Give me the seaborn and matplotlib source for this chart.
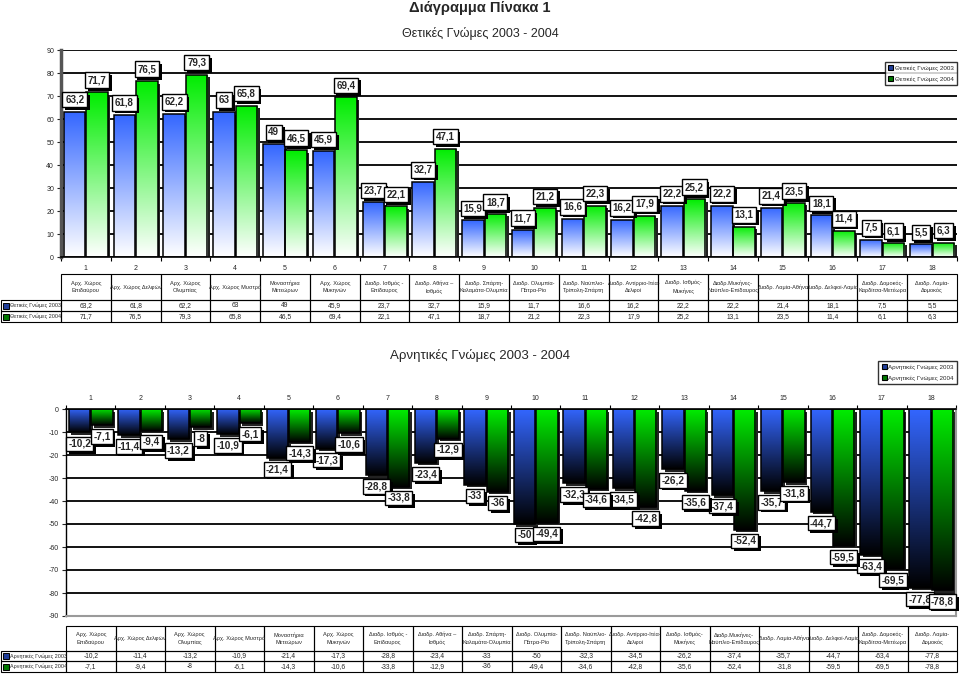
import numpy as np
import pandas as pd
import matplotlib
matplotlib.use("Agg")
import matplotlib.pyplot as plt
import seaborn as sns
from matplotlib.patches import Rectangle, Patch
from matplotlib import patheffects as pe
import matplotlib.transforms as mtransforms

# ---------------- data ----------------
categories = [str(i) for i in range(1, 19)]
places = [
    "Αρχ. Χώρος\nΕπιδαύρου", "Αρχ. Χώρος Δελφών", "Αρχ. Χώρος\nΟλυμπίας", "Αρχ. Χώρος Μυστρά",
    "Μοναστήρια\nΜετεώρων", "Αρχ. Χώρος\nΜυκηνών", "Διαδρ. Ισθμός -\nΕπίδαυρος", "Διαδρ. Αθήνα –\nΙσθμός",
    "Διαδρ. Σπάρτη-\nΚαλαμάτα-Ολυμπία", "Διαδρ. Ολυμπία-\nΠάτρα-Ρίο", "Διαδρ. Ναύπλιο-\nΤρίπολη-Σπάρτη",
    "Διαδρ. Αντίρριο-Ιτέα-\nΔελφοί", "Διαδρ. Ισθμός-\nΜυκήνες", "Διαδρ.Μυκήνες-\nΝαύπλιο-Επίδαυρος",
    "Διαδρ. Λαμία-Αθήνα", "Διαδρ. Δελφοί-Λαμία", "Διαδρ. Δομοκός-\nΚαρδίτσα-Μετέωρα", "Διαδρ. Λαμία-\nΔομοκός",
]
pos_2003 = [63.2, 61.8, 62.2, 63, 49, 45.9, 23.7, 32.7, 15.9, 11.7, 16.6, 16.2, 22.2, 22.2, 21.4, 18.1, 7.5, 5.5]
pos_2004 = [71.7, 76.5, 79.3, 65.8, 46.5, 69.4, 22.1, 47.1, 18.7, 21.2, 22.3, 17.9, 25.2, 13.1, 23.5, 11.4, 6.1, 6.3]
neg_2003 = [-10.2, -11.4, -13.2, -10.9, -21.4, -17.3, -28.8, -23.4, -33, -50, -32.3, -34.5, -26.2, -37.4, -35.7, -44.7, -63.4, -77.8]
neg_2004 = [-7.1, -9.4, -8, -6.1, -14.3, -10.6, -33.8, -12.9, -36, -49.4, -34.6, -42.8, -35.6, -52.4, -31.8, -59.5, -69.5, -78.8]
pos_series = ["Θετικές Γνώμες 2003", "Θετικές Γνώμες 2004"]
neg_series = ["Αρνητικές Γνώμες 2003", "Αρνητικές Γνώμες 2004"]
y_ticks_pos = list(range(0, 91, 10))
y_ticks_neg = list(range(-90, 1, 10))

title_main = "Διάγραμμα Πίνακα 1"
title_pos = "Θετικές Γνώμες 2003 - 2004"
title_neg = "Αρνητικές Γνώμες 2003 - 2004"

BLUE = np.array([0.20, 0.40, 1.00])
GREEN = np.array([0.00, 0.93, 0.00])

sns.set_theme(style="white")
plt.rcParams["font.family"] = ["Liberation Sans", "DejaVu Sans"]

W, H = 960, 675
fig = plt.figure(figsize=(9.6, 6.75), dpi=100)


def rect(l, t, r, b):
    return [l / W, 1 - b / H, (r - l) / W, (b - t) / H]


# overlay axes in pixel coordinates (for tables)
axf = fig.add_axes([0, 0, 1, 1])
axf.set_xlim(0, W)
axf.set_ylim(H, 0)
axf.axis("off")
axf.patch.set_alpha(0)

ax1 = fig.add_axes(rect(61, 50, 957, 257))
ax2 = fig.add_axes(rect(66, 409, 956, 616))


def fmt(v):
    return f"{v:g}".replace(".", ",")


def draw_bars(ax, v03, v04, names, low_colors):
    df = pd.DataFrame({
        "cat": categories * 2,
        "value": list(v03) + list(v04),
        "series": [names[0]] * 18 + [names[1]] * 18,
    })
    sns.barplot(data=df, x="cat", y="value", hue="series", hue_order=names,
                palette=[tuple(BLUE), tuple(GREEN)], width=0.9, gap=0.04,
                saturation=1, ax=ax, legend=False, edgecolor="black", linewidth=1.1)
    vals = [list(v03), list(v04)]
    patches = [p for p in ax.patches if isinstance(p, Rectangle)]
    off = mtransforms.offset_copy(ax.transData, fig=fig, x=2.5, y=-2.5, units="dots")
    t = np.linspace(0, 1, 256)[:, None]
    for p in patches:
        fc = np.array(p.get_facecolor()[:3])
        s = 0 if np.abs(fc - BLUE).sum() < np.abs(fc - GREEN).sum() else 1
        top_col = BLUE if s == 0 else GREEN
        x0 = p.get_x()
        w = p.get_width()
        ya, yb = sorted([p.get_y(), p.get_y() + p.get_height()])
        if yb - ya <= 0:
            continue
        idx = int(round(x0 + w / 2))
        sh = Rectangle((x0, ya), w, yb - ya, transform=off, fc="#222222", ec="none", zorder=1.6)
        ax.add_patch(sh)
        arr = (np.array(low_colors)[None, :] * (1 - t) + top_col[None, :] * t)
        arr = np.clip(arr, 0, 1).reshape(256, 1, 3)
        im = ax.imshow(arr, extent=(x0, x0 + w, ya, yb), origin="lower", aspect="auto",
                       zorder=2.5, interpolation="bilinear")
        im.set_clip_path(p)
        p.set_facecolor("none")
        p.set_zorder(3)
        v = vals[s][idx]
        if v >= 0:
            ann = ax.annotate(fmt(v), xy=(x0 + w / 2, yb), xytext=(0, 5), textcoords="offset points",
                              ha="center", va="bottom", fontsize=7, fontweight="bold", zorder=6,
                              bbox=dict(boxstyle="square,pad=0.28", fc="white", ec="black", lw=1.0))
        else:
            ann = ax.annotate(fmt(v), xy=(x0 + w / 2, ya), xytext=(0, -4.5), textcoords="offset points",
                              ha="center", va="top", fontsize=7.2, fontweight="bold", zorder=6,
                              bbox=dict(boxstyle="square,pad=0.22", fc="white", ec="black", lw=1.0))
        ann.get_bbox_patch().set_path_effects([
            pe.SimplePatchShadow(offset=(2, -2), shadow_rgbFace="black", alpha=1.0), pe.Normal()])
        ann.set_clip_on(False)


# ---------------- top chart ----------------
draw_bars(ax1, pos_2003, pos_2004, pos_series, (1.0, 1.0, 1.0))
ax1.set_xlim(-0.5, 17.5)
ax1.set_ylim(0, 90)
ax1.set_yticks(y_ticks_pos)
ax1.set_yticklabels([str(v) for v in y_ticks_pos])
ax1.set_xticks(range(18))
ax1.set_xticklabels(categories)
ax1.set_xticks(np.arange(-0.5, 18, 1), minor=True)
ax1.set_xlabel("")
ax1.set_ylabel("")
ax1.tick_params(axis="x", which="major", length=0, pad=6, labelsize=5)
ax1.tick_params(axis="x", which="minor", length=3, width=0.8, direction="out", color="black", bottom=True)
ax1.tick_params(axis="y", length=3, width=0.8, direction="out", labelsize=5, left=True, pad=2)
ax1.yaxis.grid(True, color="black", lw=1.3)
ax1.xaxis.grid(False)
ax1.set_axisbelow(True)
for sp in ["top", "right"]:
    ax1.spines[sp].set_visible(False)
ax1.spines["left"].set_color("#555555")
ax1.spines["left"].set_linewidth(2.5)
ax1.spines["bottom"].set_color("black")
ax1.spines["bottom"].set_linewidth(1.2)

# ---------------- bottom chart ----------------
draw_bars(ax2, neg_2003, neg_2004, neg_series, (0.0, 0.0, 0.0))
ax2.set_xlim(-0.5, 17.5)
ax2.set_ylim(-90, 0)
ax2.set_yticks(y_ticks_neg)
ax2.set_yticklabels([str(v) for v in y_ticks_neg])
ax2.xaxis.tick_top()
ax2.set_xticks(range(18))
ax2.set_xticklabels(categories)
ax2.set_xticks(np.arange(-0.5, 18, 1), minor=True)
ax2.set_xlabel("")
ax2.set_ylabel("")
ax2.tick_params(axis="x", which="major", length=0, pad=5, labelsize=5, top=True, bottom=False,
                labeltop=True, labelbottom=False)
ax2.tick_params(axis="x", which="minor", length=3, width=0.8, direction="out", color="black",
                top=True, bottom=False)
ax2.tick_params(axis="y", length=3, width=0.8, direction="out", labelsize=5, left=True, pad=2)
ax2.yaxis.grid(True, color="black", lw=1.3)
ax2.xaxis.grid(False)
ax2.set_axisbelow(True)
ax2.spines["top"].set_color("black")
ax2.spines["top"].set_linewidth(1.2)
ax2.spines["left"].set_color("black")
ax2.spines["left"].set_linewidth(1.0)
for sp in ["bottom", "right"]:
    ax2.spines[sp].set_color("#9a9a9a")
    ax2.spines[sp].set_linewidth(1.5)

# ---------------- titles ----------------
fig.text(0.5, 1 - 8 / H, title_main, ha="center", va="center", fontsize=10.5, fontweight="bold")
fig.text(0.5, 1 - 33 / H, title_pos, ha="center", va="center", fontsize=9)
fig.text(0.5, 1 - 356 / H, title_neg, ha="center", va="center", fontsize=9.5)

# ---------------- legends ----------------
def add_legend(ax, names, anchor_px):
    handles = [Patch(facecolor=tuple(BLUE * 0.6), edgecolor="black", lw=0.8, label=names[0]),
               Patch(facecolor=tuple(GREEN * 0.5), edgecolor="black", lw=0.8, label=names[1])]
    leg = ax.legend(handles=handles, loc="upper right", bbox_to_anchor=(anchor_px[0] / W, 1 - anchor_px[1] / H),
                    bbox_transform=fig.transFigure, fontsize=4.5, frameon=True, fancybox=False,
                    handlelength=0.8, handleheight=0.8, handletextpad=0.3, borderpad=0.5,
                    labelspacing=0.9, borderaxespad=0)
    leg.get_frame().set_edgecolor("black")
    leg.get_frame().set_linewidth(1.0)
    leg.set_zorder(10)


add_legend(ax1, pos_series, (957, 62))
add_legend(ax2, neg_series, (957, 361))

# ---------------- data tables ----------------
def draw_table(left, right, top, hb, r1b, r2b, v03, v04, names):
    cw = (right - left) / 18
    lw = 0.8
    for k in range(18):
        xl = left + k * cw
        for (yt, yb) in [(top, hb), (hb, r1b), (r1b, r2b)]:
            axf.add_patch(Rectangle((xl, yt), cw, yb - yt, fc="none", ec="black", lw=lw))
        hdr = axf.text(xl + cw / 2, (top + hb) / 2, places[k], ha="center", va="center",
                       fontsize=4.1, linespacing=1.6)
        hdr.set_clip_path(Rectangle((xl, top), cw, hb - top, transform=axf.transData))
        axf.text(xl + cw / 2, (hb + r1b) / 2, fmt(v03[k]), ha="center", va="center", fontsize=4.8)
        axf.text(xl + cw / 2, (r1b + r2b) / 2, fmt(v04[k]), ha="center", va="center", fontsize=4.8)
    for i, (yt, yb) in enumerate([(hb, r1b), (r1b, r2b)]):
        axf.add_patch(Rectangle((1, yt), left - 1, yb - yt, fc="none", ec="black", lw=lw))
        col = BLUE * 0.6 if i == 0 else GREEN * 0.5
        axf.add_patch(Rectangle((2.5, (yt + yb) / 2 - 3), 6, 6, fc=tuple(col), ec="black", lw=0.7))
        axf.text(10, (yt + yb) / 2, names[i], ha="left", va="center", fontsize=3.9)


draw_table(61, 957, 274, 300, 311, 322, pos_2003, pos_2004, pos_series)
draw_table(66, 957, 626, 651, 661, 672, neg_2003, neg_2004, neg_series)

fig.savefig("out.png", dpi=100)
